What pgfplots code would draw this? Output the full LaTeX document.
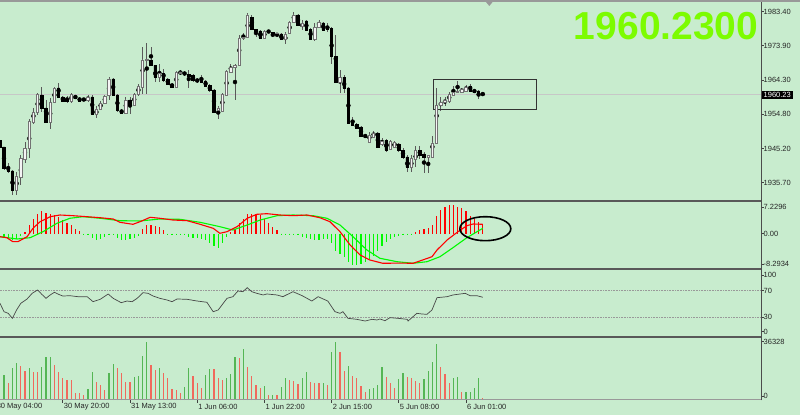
\documentclass[border=0pt]{standalone}
\usepackage{pgfplots}
\pgfplotsset{compat=1.18}
\usepackage{pgfplotstable}
\usepackage{fontspec}
\setmainfont{Liberation Sans}
\definecolor{bg}{RGB}{200,236,206}
\definecolor{lawn}{RGB}{124,252,0}
\definecolor{vgreen}{RGB}{84,182,84}
\definecolor{vred}{RGB}{240,105,92}
\definecolor{mgreen}{RGB}{0,250,0}
\definecolor{mred}{RGB}{255,0,0}
\definecolor{bullfill}{RGB}{244,244,244}

\pgfplotstableread{
i o h l c
-1 1947.60 1948.70 1945.40 1945.70
0 1945.66 1945.80 1939.20 1939.80
1 1939.80 1941.20 1938.40 1938.97
2 1938.97 1939.20 1932.30 1933.66
3 1933.66 1938.70 1932.30 1937.57
4 1937.29 1943.40 1935.06 1942.59
5 1942.31 1947.05 1941.20 1945.38
6 1945.38 1953.47 1942.60 1952.91
7 1952.63 1956.54 1952.07 1955.42
8 1955.42 1960.72 1954.60 1960.44
9 1960.17 1962.40 1955.42 1956.54
10 1956.54 1958.77 1952.35 1952.63
11 1952.63 1959.33 1950.68 1958.21
12 1958.21 1962.40 1957.93 1962.12
13 1962.12 1963.51 1959.33 1959.61
14 1959.61 1959.89 1958.21 1958.49
15 1959.05 1959.89 1957.93 1958.49
16 1958.49 1960.72 1957.93 1960.44
17 1959.89 1960.17 1959.05 1959.33
18 1959.33 1959.61 1958.21 1958.49
19 1959.05 1959.30 1958.50 1958.80
20 1958.77 1960.17 1958.21 1959.61
21 1959.61 1960.17 1954.70 1954.86
22 1954.86 1957.10 1953.75 1956.26
23 1956.26 1958.49 1955.98 1957.93
24 1957.93 1960.17 1957.65 1959.89
25 1960.17 1965.18 1958.77 1964.63
26 1964.63 1964.90 1959.89 1960.17
27 1960.17 1960.44 1955.42 1955.98
28 1955.98 1956.26 1954.86 1955.14
29 1955.14 1959.61 1954.86 1958.77
30 1958.77 1959.61 1954.86 1957.37
31 1957.37 1960.72 1957.10 1960.44
32 1960.44 1963.23 1959.89 1962.67
33 1962.40 1973.55 1960.44 1969.95
34 1969.95 1974.67 1960.44 1970.20
35 1969.95 1973.55 1968.40 1968.53
36 1968.53 1968.60 1963.79 1965.18
37 1965.18 1968.81 1963.79 1966.30
38 1966.30 1967.40 1963.79 1964.35
39 1964.63 1964.90 1962.95 1963.23
40 1963.23 1963.51 1962.20 1962.40
41 1962.40 1966.86 1962.12 1966.58
42 1966.30 1967.14 1965.74 1966.58
43 1966.30 1966.86 1965.46 1966.10
44 1966.02 1967.14 1962.12 1965.46
45 1965.74 1966.02 1963.79 1964.35
46 1964.63 1964.90 1963.51 1964.07
47 1964.35 1965.74 1963.51 1963.79
48 1964.07 1964.35 1962.40 1962.67
49 1962.95 1963.23 1961.00 1961.56
50 1961.56 1961.84 1955.14 1955.42
51 1955.98 1957.10 1953.47 1956.54
52 1955.70 1960.72 1955.42 1960.44
53 1960.17 1967.14 1959.89 1966.86
54 1966.58 1968.81 1966.30 1967.97
55 1967.97 1968.81 1958.77 1968.53
56 1968.53 1976.90 1968.40 1976.06
57 1976.06 1977.46 1975.50 1976.34
58 1976.34 1983.04 1976.06 1982.48
59 1981.92 1982.48 1978.30 1978.57
60 1978.57 1978.60 1976.34 1978.02
61 1978.02 1978.30 1975.79 1976.06
62 1976.06 1978.30 1975.79 1978.02
63 1978.02 1978.30 1977.46 1977.74
64 1977.50 1977.60 1976.34 1977.30
65 1977.30 1977.60 1976.34 1977.45
66 1977.18 1977.46 1975.50 1975.79
67 1975.79 1977.74 1974.39 1977.18
68 1977.46 1980.81 1977.18 1980.53
69 1980.53 1983.32 1980.25 1982.48
70 1982.48 1982.76 1979.41 1979.69
71 1979.41 1981.08 1978.30 1980.25
72 1980.81 1981.08 1978.02 1978.30
73 1978.57 1978.85 1975.50 1975.79
74 1975.79 1980.25 1975.20 1979.13
75 1979.13 1981.08 1978.85 1980.53
76 1980.25 1980.53 1978.02 1978.30
77 1978.85 1980.25 1977.74 1978.57
78 1978.85 1979.13 1968.81 1971.04
79 1971.04 1976.90 1963.60 1963.79
80 1963.79 1967.14 1960.72 1965.18
81 1965.18 1965.74 1960.72 1962.12
82 1962.12 1962.40 1952.07 1952.35
83 1952.35 1954.00 1951.50 1951.80
84 1952.07 1952.35 1950.68 1950.96
85 1951.24 1951.52 1948.45 1948.73
86 1949.01 1949.30 1948.17 1948.45
87 1947.05 1949.85 1946.78 1949.01
88 1948.45 1950.13 1948.17 1949.57
89 1949.57 1949.85 1945.38 1945.66
90 1946.50 1948.17 1945.94 1947.33
91 1947.61 1947.89 1944.26 1944.82
92 1945.10 1947.61 1944.82 1947.33
93 1945.66 1947.33 1945.38 1947.05
94 1946.50 1946.78 1944.26 1944.82
95 1944.82 1945.38 1942.31 1942.87
96 1942.87 1943.43 1938.69 1940.08
97 1940.08 1943.43 1938.69 1942.59
98 1942.31 1945.94 1940.08 1944.82
99 1944.82 1945.94 1942.31 1943.43
100 1943.71 1944.26 1938.41 1942.87
101 1942.87 1943.50 1938.41 1943.43
102 1942.87 1948.73 1942.70 1946.78
103 1946.78 1962.12 1946.60 1957.37
104 1957.37 1959.61 1955.70 1958.21
105 1958.21 1959.61 1957.10 1958.77
106 1958.49 1961.00 1957.93 1960.44
107 1960.17 1962.67 1959.89 1961.00
108 1961.00 1964.07 1960.72 1961.10
109 1961.00 1962.12 1960.72 1961.84
110 1961.28 1962.95 1961.00 1962.40
111 1962.67 1963.23 1961.00 1961.28
112 1961.56 1961.84 1960.72 1961.00
113 1961.28 1961.56 1959.05 1960.72
114 1960.44 1961.00 1959.89 1960.23
}\candles

\pgfplotstableread{
i m
-1 -1.0
0 -1.0
1 -1.4
2 -1.6
3 -1.4
4 -0.6
5 0.4
6 2.3
7 4.1
8 5.5
9 6.1
10 5.8
11 5.5
12 5.0
13 4.6
14 3.7
15 2.9
16 2.3
17 1.4
18 0.7
19 -0.15
20 -0.2
21 -1.3
22 -1.6
23 -1.5
24 -1.0
25 -0.3
26 -0.3
27 -1.2
28 -1.6
29 -1.6
30 -1.5
31 -1.2
32 -0.6
33 1.4
34 2.3
35 2.5
36 2.2
37 1.8
38 1.0
39 -0.2
40 -0.2
41 -0.3
42 -0.2
43 -0.3
44 -1.0
45 -1.2
46 -1.3
47 -1.4
48 -1.8
49 -2.5
50 -3.5
51 -3.8
52 -2.6
53 -0.8
54 0.5
55 1.4
56 2.9
57 4.1
58 5.3
59 5.5
60 5.5
61 5.0
62 4.1
63 2.9
64 1.8
65 1.0
66 -0.2
67 -0.2
68 -0.2
69 -0.3
70 -0.3
71 -0.8
72 -1.2
73 -1.5
74 -1.6
75 -1.6
76 -1.5
77 -1.4
78 -2.5
79 -4.6
80 -5.5
81 -6.4
82 -7.8
83 -8.7
84 -8.7
85 -8.3
86 -7.8
87 -7.0
88 -6.0
89 -4.6
90 -3.3
91 -2.3
92 -1.4
93 -0.9
94 -0.5
95 -0.2
96 -0.2
97 -0.2
98 0.6
99 1.1
100 1.4
101 1.6
102 2.5
103 4.8
104 6.4
105 7.3
106 7.8
107 7.8
108 7.3
109 6.9
110 6.1
111 4.8
112 4.1
113 3.2
114 2.5
}\hist

\pgfplotstableread{
i v g
0 15575 1
1 10400 0
2 19730 1
3 22840 1
4 21390 0
5 18070 0
6 20150 1
7 17650 0
8 17500 0
9 20770 1
10 26580 1
11 26600 1
12 21800 0
13 17650 0
14 13910 0
15 12460 0
16 12400 0
17 4150 0
18 4100 0
19 3115 0
20 6850 1
21 17650 1
22 11420 0
23 9345 0
24 6230 0
25 16610 1
26 22220 1
27 20150 0
28 16610 0
29 11420 0
30 11300 0
31 14540 1
32 14950 1
33 27410 1
34 36328 1
35 21800 0
36 18690 0
37 19730 1
38 16610 0
39 13910 0
40 6850 0
41 6230 0
42 4570 0
43 8310 1
44 19730 1
45 15160 0
46 10800 0
47 7270 0
48 15575 1
49 19310 1
50 19200 0
51 13910 0
52 12460 0
53 13910 1
54 16200 1
55 26990 1
56 25960 0
57 31770 1
58 20770 0
59 15160 0
60 9345 0
61 7480 0
62 8930 1
63 3115 0
64 3200 1
65 3100 0
66 8310 1
67 13910 1
68 12460 0
69 11840 0
70 9760 0
71 13910 1
72 17650 1
73 11420 0
74 10800 0
75 10300 0
76 10380 1
77 9345 0
78 30110 1
79 36000 1
80 30110 0
81 18280 0
82 21180 1
83 15160 0
84 13500 0
85 8720 0
86 4770 0
87 6850 1
88 7690 1
89 9345 1
90 20770 1
91 14540 0
92 10380 0
93 7690 0
94 13080 1
95 16610 1
96 14540 0
97 13910 0
98 11840 0
99 10800 0
100 13080 1
101 18070 1
102 23880 1
103 34890 1
104 20770 0
105 15990 0
106 10800 0
107 13910 1
108 14540 1
109 4770 0
110 4800 1
111 5190 1
112 7270 1
113 13910 1
114 1040 0
}\vol

\pgfplotsset{
  mt/.style={
    scale only axis, width=761pt, xmin=-0.952, xmax=180.24,
    anchor=south west, axis line style={draw=none},
    tick align=outside, major tick length=2.5pt,
    ytick pos=right, yticklabel pos=right, scaled ticks=false,
    tick style={black!75, line width=0.6pt},
    yticklabel style={font=\fontsize{7.5}{9}\selectfont, text=black!85, anchor=west, inner sep=0pt},
    xtick=\empty, clip mode=individual,
  },
}
\tikzset{dlab/.style={anchor=west, inner sep=0pt, xshift=1pt, yshift=-7pt, text=black!85,
    font=\fontsize{7.5}{9}\selectfont}}

\begin{document}
\begin{tikzpicture}[x=1pt,y=1pt]
\fill[bg] (0,0) rectangle (800,415);
\useasboundingbox (0,0) rectangle (800,415);

% ---------- price panel ----------
\begin{axis}[mt, at={(0pt,215pt)}, height=198pt,
  ymin=1930.876, ymax=1986.106,
  ytick={1935.7,1945.2,1954.8,1964.3,1973.9,1983.4},
  yticklabels={1935.70,1945.20,1954.80,1964.30,1973.90,1983.40}]
\addplot[black!22, line width=0.8pt, forget plot] coordinates {(-1,1960.23) (181,1960.23)};
\addplot[only marks, mark=none, forget plot, error bars/.cd, y dir=both, y explicit, error mark=none,
  error bar style={line width=0.8pt, black!65}]
  table[x=i, y expr={(\thisrow{h}+\thisrow{l})/2}, y error expr={(\thisrow{h}-\thisrow{l})/2}] {\candles};
\draw[black!80, line width=0.9pt] (axis cs:102.2,1956.26) rectangle (axis cs:126.8,1964.54);
\node[fill=black, text=white, anchor=west, inner xsep=2.5pt, inner ysep=1.3pt,
  font=\fontsize{7.5}{8}\selectfont] at (axis cs:180.24,1960.23) {1960.23};
\end{axis}
% candle bodies (overlay axis with identical geometry)
\begin{axis}[mt, at={(0pt,215pt)}, height=198pt,
  ymin=1930.876, ymax=1986.106, hide axis, ybar stacked, bar width=2.4pt]
\addplot[draw=none, fill=none] table[x=i, y expr={min(\thisrow{o},\thisrow{c})}] {\candles};
\addplot[draw=black!55, fill=bullfill, line width=0.7pt] table[x=i, y expr={max(\thisrow{c}-\thisrow{o},0)}] {\candles};
\addplot[draw=black, fill=black, line width=0.7pt] table[x=i, y expr={max(\thisrow{o}-\thisrow{c},0)}] {\candles};
\end{axis}

% ---------- MACD panel ----------
\begin{axis}[mt, at={(0pt,147pt)}, height=67pt,
  ymin=-9.390, ymax=8.952,
  ytick={-8.2934,0,7.2296}, yticklabels={-8.2934,0.00,7.2296}]
\addplot[ycomb, mred, line width=1.3pt, mark=none] table[x=i, y expr={max(\thisrow{m},0)}] {\hist};
\addplot[ycomb, mgreen, line width=1.3pt, mark=none] table[x=i, y expr={min(\thisrow{m},0)}] {\hist};
\addplot[mgreen, line width=1.1pt, mark=none] coordinates {
(-0.95,-0.82) (3.1,-1.45) (6.2,-1.10) (9.3,0.55) (12.6,2.85) (15.7,4.22) (18.8,4.65) (22.9,4.22) (27.6,3.56) (32.4,3.48) (37.1,4.02) (41.9,3.94) (46.7,3.12) (51.4,1.92) (54.5,1.01) (57.9,2.38) (61.0,3.75) (65.0,4.93) (68.8,5.12) (73.6,4.93) (76.9,4.22) (80.0,2.38) (83.1,-0.82) (86.4,-4.46) (89.5,-6.73) (93.6,-7.67) (97.4,-8.10) (100.7,-7.67) (103.8,-6.30) (106.9,-3.83) (110.2,-1.10) (114.0,1.48)};
\addplot[mred, line width=1.1pt, mark=none] coordinates {
(-0.95,-0.82) (0.7,-1.10) (2.1,-2.19) (3.3,-2.19) (5.5,-0.82) (6.9,1.48) (8.6,3.29) (11.0,4.65) (13.3,5.12) (16.4,4.93) (19.8,4.65) (22.9,4.38) (26.0,4.02) (27.6,3.12) (30.7,2.57) (32.4,3.29) (34.8,4.49) (37.1,4.22) (40.2,3.75) (43.6,3.56) (46.7,2.57) (49.8,1.48) (51.4,0.11) (53.1,0.55) (55.5,1.92) (57.9,4.22) (60.2,5.31) (62.6,5.48) (65.7,5.12) (68.8,4.93) (72.1,5.12) (75.2,4.38) (77.6,3.29) (80.0,0.55) (82.4,-3.09) (84.8,-5.83) (87.1,-7.20) (90.2,-8.10) (94.3,-8.05) (97.4,-8.10) (99.0,-7.47) (101.9,-6.30) (103.1,-4.46) (105.5,-1.72) (107.9,0.38) (110.2,2.19) (111.7,2.66) (114.0,2.57)};
\draw[black, line width=1.6pt] (axis cs:114.6,1.37) ellipse [x radius=25.5pt, y radius=12pt];
\end{axis}

% ---------- RSI panel ----------
\begin{axis}[mt, at={(0pt,78pt)}, height=67pt,
  ymin=-0.38, ymax=101.46,
  ytick={7.7,30,70,93.9}, yticklabels={0,30,70,100}]
\addplot[black!40, densely dotted, line width=0.6pt] coordinates {(-1,30) (181,30)};
\addplot[black!40, densely dotted, line width=0.6pt] coordinates {(-1,70) (181,70)};
\addplot[black!72, line width=0.7pt, mark=none] coordinates {
(-0.95,50.8) (0,38.1) (1,35.6) (2,28.0) (3,40.7) (4,50.8) (5.5,57.4) (6.7,66.0) (8,71.1) (9,64.5) (10,58.4) (11,63.5) (12,67.6) (13,64.5) (14,61.9) (15.7,62.4) (17.6,60.9) (19.8,60.9) (21.2,53.3) (22.9,56.9) (24.8,65.0) (26,58.4) (27.9,51.8) (29.3,54.3) (30.5,53.3) (31.7,58.4) (33.1,67.0) (34.3,66.0) (35.5,61.9) (37.1,58.4) (38.8,55.9) (40,53.3) (41.2,57.4) (43.6,56.9) (46,54.3) (48.3,52.4) (49.8,38.1) (51,40.7) (53.1,58.4) (54.5,60.9) (55.7,69.5) (56.9,68.5) (57.9,74.6) (59,68.5) (60.2,66.0) (61.7,63.5) (62.6,65.0) (65,63.5) (66.4,60.9) (68.8,68.5) (71,62.4) (73.3,54.3) (74.8,60.9) (76,57.4) (77.1,54.3) (78.8,38.1) (80,35.6) (80.7,38.1) (81.9,28.0) (84,26.5) (86,23.9) (87.6,26.5) (88.8,25.5) (89.5,27.0) (90.7,24.4) (91.9,29.0) (93.8,28.0) (96,26.5) (96.2,23.9) (98.3,35.6) (99.5,34.6) (100.7,34.1) (101.9,40.7) (103.1,59.4) (105.5,60.9) (106.9,63.5) (109.8,66.0) (111,62.4) (112.6,62.4) (114,60.0)};
\end{axis}

% ---------- volume panel ----------
\begin{axis}[mt, at={(0pt,15pt)}, height=62pt,
  ymin=0, ymax=38626,
  ytick={2490,36328}, yticklabels={0,36328},
  xtick={14,30,46,62,78,94,110}, xticklabel={\relax}, xtick pos=left]
\addplot[ycomb, vgreen, line width=1.2pt, mark=none] table[x=i, y expr={\thisrow{v}*\thisrow{g}}] {\vol};
\addplot[ycomb, vred, line width=1.2pt, mark=none] table[x=i, y expr={\thisrow{v}*(1-\thisrow{g})}] {\vol};
\node[dlab] at (axis cs:-2,0) {30 May 04:00};
\node[dlab] at (axis cs:14,0) {30 May 20:00};
\node[dlab] at (axis cs:30,0) {31 May 13:00};
\node[dlab] at (axis cs:46,0) {1 Jun 06:00};
\node[dlab] at (axis cs:62,0) {1 Jun 22:00};
\node[dlab] at (axis cs:78,0) {2 Jun 15:00};
\node[dlab] at (axis cs:94,0) {5 Jun 08:00};
\node[dlab] at (axis cs:110,0) {6 Jun 01:00};
\end{axis}

% ---------- frame ----------
\draw[black!40, line width=2pt] (0,414) -- (800,414);
\draw[black!65, line width=1.8pt] (0,213.8) -- (761,213.8);
\draw[black!65, line width=1.8pt] (0,145.7) -- (761,145.7);
\draw[black!65, line width=1.8pt] (0,77.8) -- (761,77.8);
\draw[black!40, line width=1pt] (0,15.2) -- (761,15.2);
\draw[black!70, line width=1.2pt] (761.3,14.7) -- (761.3,413);
\fill[black!40] (486,413) -- (492.6,413) -- (489.3,409) -- cycle;

\node[anchor=base east, text=lawn, inner sep=0pt,
  font=\fontsize{39}{40}\selectfont\bfseries] at (758.5,375) {1960.2300};
\end{tikzpicture}
\end{document}
